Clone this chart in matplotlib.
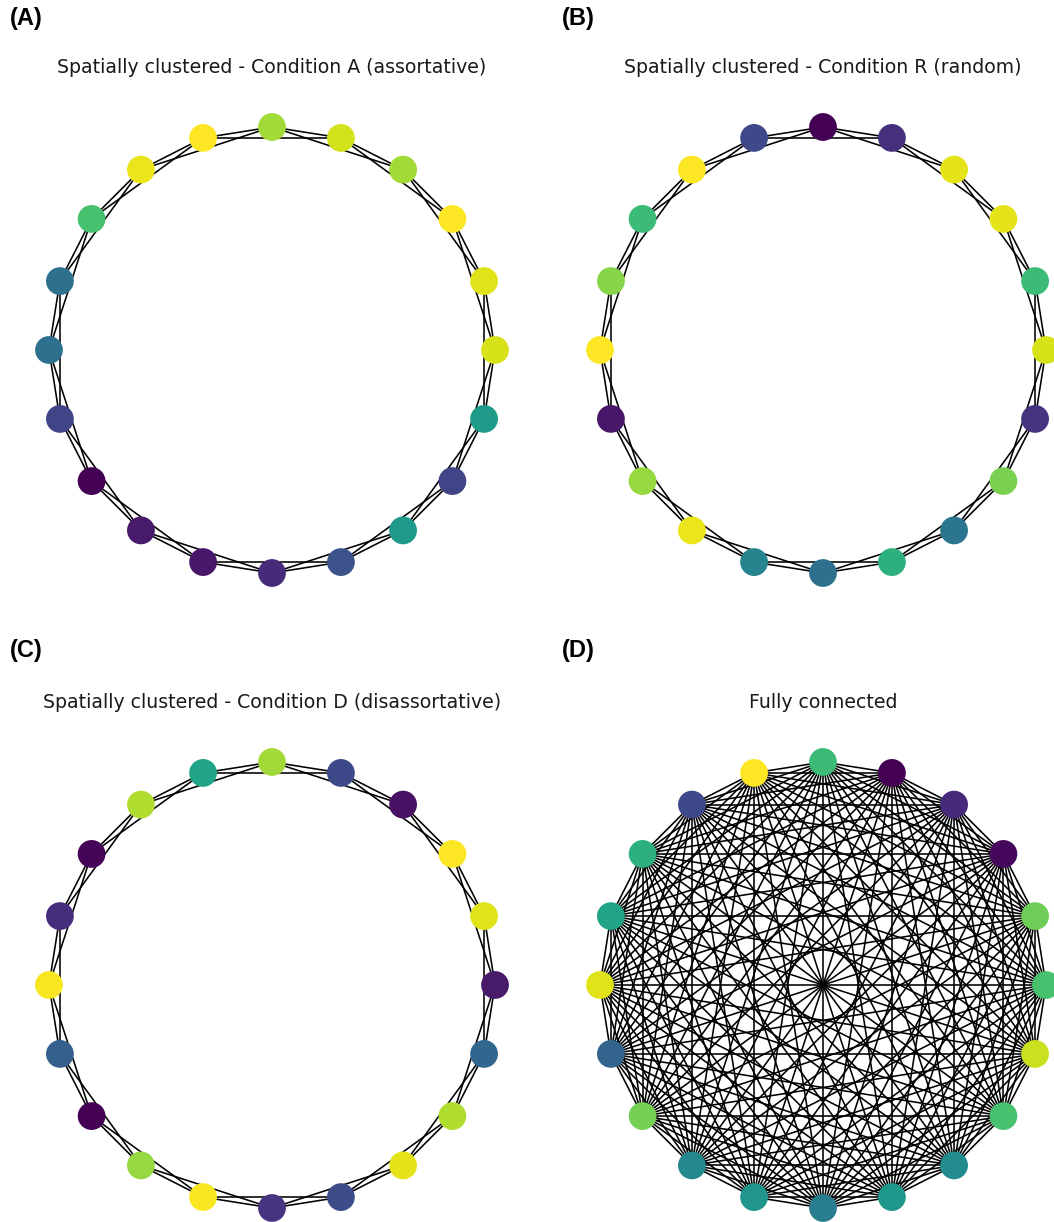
import numpy as np
import matplotlib.pyplot as plt
from matplotlib.collections import LineCollection

# node colour values (viridis 0..1), listed clockwise starting from the top node
vals_a = [0.86, 0.93, 0.86, 1.00, 0.95, 0.94, 0.55, 0.20, 0.54, 0.25,
          0.12, 0.06, 0.07, 0.00, 0.20, 0.37, 0.37, 0.71, 0.97, 1.00]
vals_b = [0.00, 0.14, 0.96, 0.96, 0.68, 0.94, 0.15, 0.80, 0.39, 0.64,
          0.37, 0.45, 0.97, 0.84, 0.06, 1.00, 0.82, 0.68, 1.00, 0.22]
vals_c = [0.86, 0.22, 0.04, 1.00, 0.95, 0.07, 0.33, 0.88, 0.96, 0.23,
          0.15, 0.99, 0.84, 0.00, 0.30, 0.99, 0.13, 0.01, 0.88, 0.58]
vals_d = [0.68, 0.00, 0.12, 0.02, 0.78, 0.71, 0.92, 0.71, 0.48, 0.53,
          0.42, 0.52, 0.47, 0.79, 0.32, 0.95, 0.58, 0.64, 0.22, 1.00]

titles = ['Spatially clustered - Condition A (assortative)',
          'Spatially clustered - Condition R (random)',
          'Spatially clustered - Condition D (disassortative)',
          'Fully connected']
labels = ['(A)', '(B)', '(C)', '(D)']
neighbours = [2, 2, 2, None]  # ring lattice reach; None = every pair

W, H = 1054, 1222
fig = plt.figure(figsize=(W / 100, H / 100), dpi=100)

centers = [(272, 350), (823, 350), (272, 985), (823, 985)]
radius_px = 223
lim = 1.21
side = 2 * lim * radius_px


def edges_of(n, reach):
    out = []
    for i in range(n):
        for j in range(i + 1, n):
            d = min(j - i, n - (j - i))
            if reach is None or d <= reach:
                out.append((i, j))
    return out


for k, vals in enumerate([vals_a, vals_b, vals_c, vals_d]):
    cx, cy = centers[k]
    ax = fig.add_axes([(cx - side / 2) / W, (H - cy - side / 2) / H, side / W, side / H])
    n = len(vals)
    ang = np.pi / 2 - 2 * np.pi * np.arange(n) / n
    pos = np.column_stack([np.cos(ang), np.sin(ang)])

    segs = [[pos[i], pos[j]] for i, j in edges_of(n, neighbours[k])]
    ax.add_collection(LineCollection(segs, colors='black', linewidths=1.15, zorder=1))
    ax.scatter(pos[:, 0], pos[:, 1], c=vals, cmap='viridis', vmin=0, vmax=1,
               s=400, linewidths=0, zorder=2)

    ax.set_xlim(-lim, lim)
    ax.set_ylim(-lim, lim)
    ax.axis('off')
    ax.set_title(titles[k], fontsize=13.6, pad=5, color='#1a1a1a')

    lx = 10 if k % 2 == 0 else 562
    ly = 18 if k < 2 else 651
    fig.text(lx / W, 1 - ly / H, labels[k], fontsize=17, fontweight='bold',
             family='Liberation Sans', ha='left', va='center')

fig.savefig('out.png', dpi=100)
